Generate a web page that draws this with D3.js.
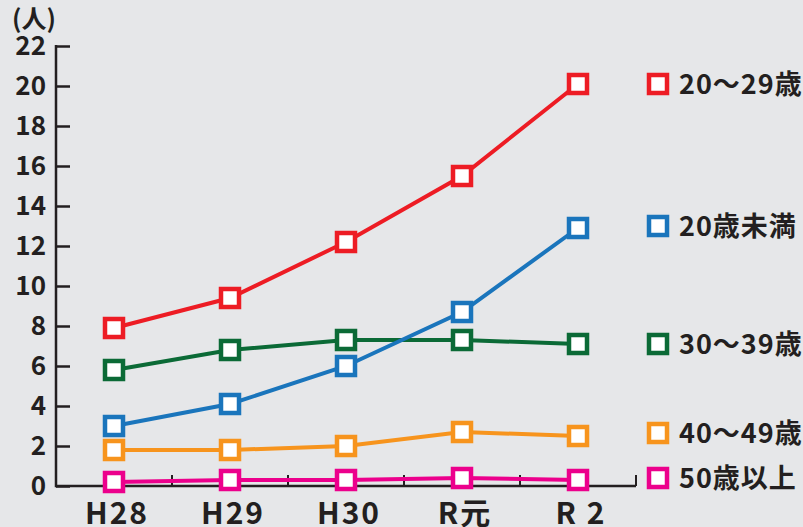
<!DOCTYPE html>
<html><head><meta charset="utf-8">
<script src="https://cdn.jsdelivr.net/npm/d3@7"></script>
<style>
html,body{margin:0;padding:0;background:#e6e7e9;}
svg{display:block;}
text{font-family:"Noto Sans CJK JP","Noto Sans",sans-serif;font-weight:bold;fill:#231f20;}
</style></head>
<body>
<svg id="c" width="803" height="527"></svg>
<script>
const categories = ["H28","H29","H30","R元","R2"];
const xLabels = ["H28","H29","H30","R元","R 2"];
const yTicks = [0,2,4,6,8,10,12,14,16,18,20,22];
const seriesNames = ["20～29歳","20歳未満","30～39歳","40～49歳","50歳以上"];
const seriesColors = ["#ed1c24","#1a75bc","#0b6a36","#f7941d","#ec008c"];
const s20_29 = [7.9, 9.4, 12.2, 15.5, 20.1];
const sUnder20 = [3.0, 4.1, 6.0, 8.7, 12.9];
const s30_39 = [5.8, 6.8, 7.3, 7.3, 7.1];
const s40_49 = [1.8, 1.8, 2.0, 2.7, 2.5];
const s50plus = [0.2, 0.3, 0.3, 0.4, 0.3];
const seriesValues = [s20_29, sUnder20, s30_39, s40_49, s50plus];
const legendY = [20.1, 13.0, 7.1, 2.65, 0.4];

const svg = d3.select("#c");
const axisColor = "#231f20";
const x = d3.scaleBand().domain(categories).range([56,636]);
const y = d3.scaleLinear().domain([0,22]).range([486,46]);

// y axis
const gy = svg.append("g").attr("transform","translate(56,0)")
  .call(d3.axisRight(y).tickValues(yTicks).tickSize(14).tickFormat(""));
gy.select(".domain").remove();
gy.selectAll(".tick line").attr("stroke",axisColor).attr("stroke-width",2.5);
svg.append("line").attr("x1",56).attr("x2",56).attr("y1",y(22)-1).attr("y2",y(0)+1.25)
  .attr("stroke",axisColor).attr("stroke-width",2.5);
svg.selectAll(".ylab").data(yTicks).enter().append("text")
  .attr("x",46).attr("y",d=>y(d)).attr("dy","0.36em").attr("text-anchor","end")
  .attr("font-size",26).text(d=>d);
svg.append("text").attr("x",34).attr("y",19).attr("dy","0.36em").attr("text-anchor","middle")
  .attr("font-size",25).text("(人)");

// x axis
svg.append("line").attr("x1",56).attr("x2",636).attr("y1",y(0)).attr("y2",y(0))
  .attr("stroke",axisColor).attr("stroke-width",2.5);
const bounds = categories.map(c=>x(c)+x.bandwidth());
svg.selectAll(".xt").data(bounds).enter().append("line")
  .attr("x1",d=>d).attr("x2",d=>d).attr("y1",y(0)).attr("y2",y(0)-11)
  .attr("stroke",axisColor).attr("stroke-width",2);
svg.selectAll(".xlab").data(categories).enter().append("text")
  .attr("x",d=>x(d)+x.bandwidth()/2+3).attr("y",524).attr("text-anchor","middle")
  .attr("font-size",30).attr("letter-spacing",2).text((d,i)=>xLabels[i]);

// series
const line = d3.line().x((d,i)=>x(categories[i])+x.bandwidth()/2).y(d=>y(d));
seriesValues.slice().reverse().forEach((vals,ri)=>{
  const i = seriesValues.length-1-ri;
  svg.append("path").datum(vals).attr("d",line).attr("fill","none")
    .attr("stroke",seriesColors[i]).attr("stroke-width",4);
  svg.selectAll(null).data(vals).enter().append("rect")
    .attr("x",(d,j)=>x(categories[j])+x.bandwidth()/2-9)
    .attr("y",d=>y(d)-9).attr("width",18).attr("height",18)
    .attr("fill","#fff").attr("stroke",seriesColors[i]).attr("stroke-width",4.5);
});

// legend
seriesNames.forEach((n,i)=>{
  const ly = y(legendY[i]);
  svg.append("rect").attr("x",649).attr("y",ly-9).attr("width",18).attr("height",18)
    .attr("fill","#fff").attr("stroke",seriesColors[i]).attr("stroke-width",4.5);
  svg.append("text").attr("x",679).attr("y",ly).attr("dy","0.36em")
    .attr("font-size",27).attr("letter-spacing",1).text(n);
});
</script>
</body></html>
